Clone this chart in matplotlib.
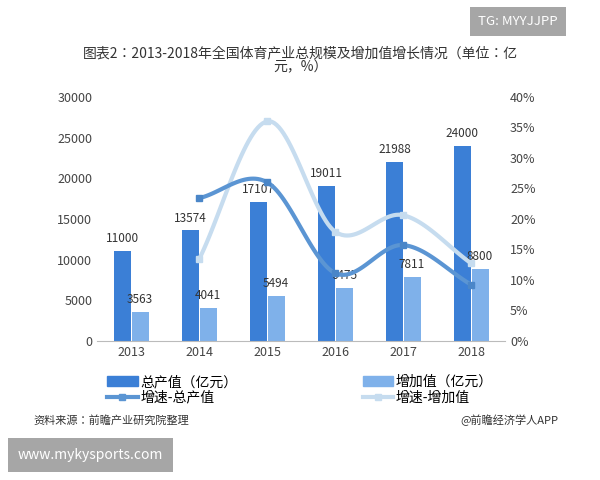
import numpy as np
import matplotlib.pyplot as plt
from matplotlib.lines import Line2D
from matplotlib.patches import Patch

plt.rcParams["font.family"] = ["Noto Sans CJK JP", "Noto Sans CJK SC", "DejaVu Sans"]

years = ["2013", "2014", "2015", "2016", "2017", "2018"]
total_output = [11000, 13574, 17107, 19011, 21988, 24000]
added_value = [3563, 4041, 5494, 6475, 7811, 8800]
growth_total = [23.4, 26.0, 11.1, 15.7, 9.2]      # 2014-2018, %
growth_added = [13.4, 36.0, 17.9, 20.6, 12.7]     # 2014-2018, %


def smooth(x, y, n=30):
    # Catmull-Rom spline, only for drawing the curve
    x = np.asarray(x, float); y = np.asarray(y, float)
    px = np.concatenate([[2 * x[0] - x[1]], x, [2 * x[-1] - x[-2]]])
    py = np.concatenate([[2 * y[0] - y[1]], y, [2 * y[-1] - y[-2]]])
    xs, ys = [], []
    t = np.linspace(0, 1, n)
    for i in range(1, len(px) - 2):
        for p, out in ((px, xs), (py, ys)):
            p0, p1, p2, p3 = p[i - 1:i + 3]
            out.extend(0.5 * (2 * p1 + (-p0 + p2) * t + (2 * p0 - 5 * p1 + 4 * p2 - p3) * t**2
                              + (-p0 + 3 * p1 - 3 * p2 + p3) * t**3))
    return xs, ys


fig = plt.figure(figsize=(6, 4.8), dpi=100)
ax = fig.add_axes([0.162, 0.29, 0.68, 0.508])
x = np.arange(len(years))
w = 0.25
off = 0.13
c1, c2 = "#3b7fd6", "#7fb1ea"
ax.bar(x - off, total_output, w, color=c1)
ax.bar(x + off, added_value, w, color=c2)
for i in range(len(years)):
    ax.text(x[i] - off, total_output[i] + 1100, str(total_output[i]), ha="center", fontsize=8.5, color="#333")
    ax.text(x[i] + off, added_value[i] + 1100, str(added_value[i]), ha="center", fontsize=8.5, color="#333")
ax.set_ylim(0, 30000)
ax.set_yticks(range(0, 30001, 5000))
ax.set_xticks(x)
ax.set_xticklabels(years)
ax.set_xlim(-0.5, 5.5)

ax2 = ax.twinx()
xg = x[1:]
sx, sy = smooth(xg, growth_added)
ax2.plot(sx, sy, color="#c6dcef", lw=3)
ax2.plot(xg, growth_added, "s", color="#c6dcef", ms=5)
sx, sy = smooth(xg, growth_total)
ax2.plot(sx, sy, color="#5b95d3", lw=3)
ax2.plot(xg, growth_total, "s", color="#4a86c8", ms=5)
ax2.set_ylim(0, 40)
ax2.set_yticks(range(0, 41, 5))
ax2.set_yticklabels([f"{v}%" for v in range(0, 41, 5)])

for a in (ax, ax2):
    for s in a.spines.values():
        s.set_visible(False)
    a.tick_params(length=0, labelsize=9, colors="#444")
ax.spines["bottom"].set_visible(True)
ax.spines["bottom"].set_color("#bbb")

# column-first order so the bars sit on the first row
handles = [Patch(color=c1),
           Line2D([], [], color="#5b95d3", lw=3, marker="s", ms=5),
           Patch(color=c2),
           Line2D([], [], color="#c6dcef", lw=3, marker="s", ms=5)]
labels = ["总产值（亿元）", "增速-总产值", "增加值（亿元）", "增速-增加值"]
fig.legend(handles, labels, loc="center", bbox_to_anchor=(0.5, 0.188), ncol=2,
           frameon=False, fontsize=10, columnspacing=9, handlelength=2.2,
           handletextpad=0.2, labelspacing=0.1)

fig.text(0.5, 0.875, "图表2：2013-2018年全国体育产业总规模及增加值增长情况（单位：亿\n元，%）",
         ha="center", va="center", fontsize=10, color="#333", linespacing=1.0)
fig.text(0.055, 0.116, "资料来源：前瞻产业研究院整理", fontsize=8, style="italic", color="#333")
fig.text(0.93, 0.116, "@前瞻经济学人APP", fontsize=8, ha="right", color="#333")
fig.text(0.93, 0.955, "TG: MYYJJPP", fontsize=9.5, ha="right", va="center", color="white",
         bbox=dict(boxstyle="square,pad=0.6", fc="#a6a6a6", ec="none"))
fig.text(0.03, 0.052, "www.mykysports.com", fontsize=10, va="center", color="white",
         bbox=dict(boxstyle="square,pad=0.7", fc="#a6a6a6", ec="none"))

fig.savefig("out.png", dpi=100)
